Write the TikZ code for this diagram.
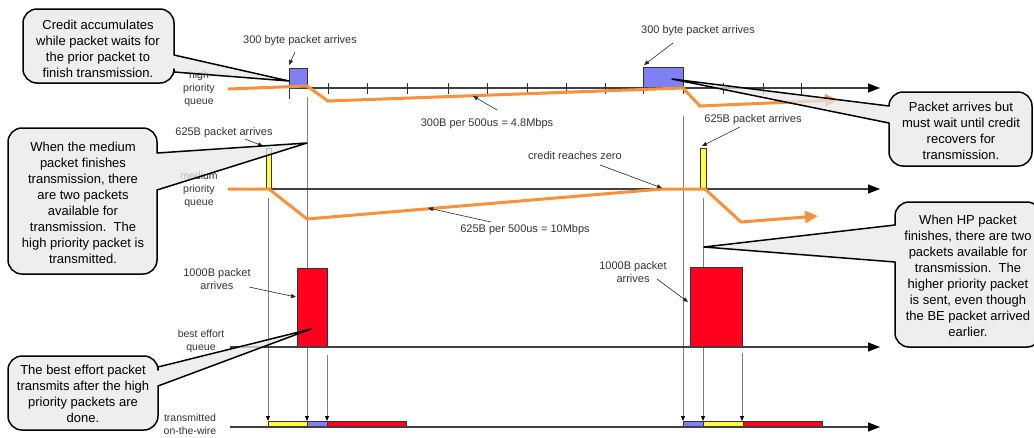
\documentclass[tikz,border=0pt]{standalone}
\usepackage{fontspec}
\setmainfont{Liberation Sans}
\usetikzlibrary{arrows.meta}
\definecolor{hpblue}{RGB}{128,128,245}
\definecolor{pktyellow}{RGB}{255,255,64}
\definecolor{pktred}{RGB}{255,0,30}
\definecolor{creditorange}{RGB}{247,145,60}
\definecolor{calloutfill}{RGB}{232,232,232}
\definecolor{labelgray}{RGB}{51,51,51}
% rounded box with a wedge on its right side: x1,y1,x2,y2,b1,b2,tipx,tipy
\newcommand{\bubbleR}[8]{%
\path[callout] ({#1+14},#2) -- ({#3-14},#2) .. controls ({#3-6.3},#2) and (#3,{#2+6.3}) .. (#3,{#2+14})
 -- (#3,#5) -- (#7,#8) -- (#3,#6)
 -- (#3,{#4-14}) .. controls (#3,{#4-6.3}) and ({#3-6.3},#4) .. ({#3-14},#4)
 -- ({#1+14},#4) .. controls ({#1+6.3},#4) and (#1,{#4-6.3}) .. (#1,{#4-14})
 -- (#1,{#2+14}) .. controls (#1,{#2+6.3}) and ({#1+6.3},#2) .. ({#1+14},#2) -- cycle;}
% rounded box with a wedge on its left side
\newcommand{\bubbleL}[8]{%
\path[callout] ({#1+14},#2) -- ({#3-14},#2) .. controls ({#3-6.3},#2) and (#3,{#2+6.3}) .. (#3,{#2+14})
 -- (#3,{#4-14}) .. controls (#3,{#4-6.3}) and ({#3-6.3},#4) .. ({#3-14},#4)
 -- ({#1+14},#4) .. controls ({#1+6.3},#4) and (#1,{#4-6.3}) .. (#1,{#4-14})
 -- (#1,#6) -- (#7,#8) -- (#1,#5)
 -- (#1,{#2+14}) .. controls (#1,{#2+6.3}) and ({#1+6.3},#2) .. ({#1+14},#2) -- cycle;}
\begin{document}
\begin{tikzpicture}[x=1pt,y=-1pt,
  axis/.style={draw=black!75, line width=1.1pt, -{Triangle[length=12pt,width=9pt,color=black]}},
  tick/.style={draw=black!80, line width=0.8pt},
  credit/.style={draw=creditorange, line width=3pt},
  creditarrow/.style={credit, -{Triangle[length=13pt,width=12pt]}},
  drop/.style={draw=black!50, line width=0.9pt, -{Triangle[length=5pt,width=4pt,color=black]}},
  pointer/.style={draw=black!85, line width=0.6pt, -{Triangle[length=5pt,width=4pt]}},
  packet/.style={draw=black!80, line width=0.7pt},
  label/.style={font=\fontsize{11}{12.5}\selectfont, text=labelgray, align=center, inner sep=0pt},
  qlabel/.style={font=\fontsize{10.5}{13}\selectfont, text=labelgray, align=center, inner sep=0pt},
  callout/.style={draw=black, line width=1.5pt, fill=calloutfill, fill opacity=0.75, line join=round},
  ctext/.style={font=\fontsize{13}{16}\selectfont, align=center, inner sep=0pt, text=black}]
\useasboundingbox (0,0) rectangle (1034,437);

% ---- coordinates on the queues
\coordinate (hpS) at (289,88);   \coordinate (hpE) at (880,88);
\coordinate (mpS) at (269,189);  \coordinate (mpE) at (880,189);
\coordinate (beS) at (230,347);  \coordinate (beE) at (880,347);
\coordinate (twS) at (230,427);  \coordinate (twE) at (880,427);

% ---- drop lines to the wire
\coordinate (d1s) at (268,198); \coordinate (d1e) at (268,421);
\coordinate (d2s) at (307,97);  \coordinate (d2e) at (307,421);
\coordinate (d3s) at (327,355); \coordinate (d3e) at (327,421);
\coordinate (d4s) at (683,116); \coordinate (d4e) at (683,421);
\coordinate (d5s) at (703,198); \coordinate (d5e) at (703,421);
\coordinate (d6s) at (742,353); \coordinate (d6e) at (742,421);
\foreach \i in {1,...,6} {\draw[drop] (d\i s) -- (d\i e);}

% ---- packets
\draw[packet, fill=hpblue] (289,68) rectangle (307,88);
\draw[packet, fill=hpblue] (643,67) rectangle (683,88);
\draw[packet, fill=pktyellow] (266,148) rectangle (271,189);
\draw[packet, fill=pktyellow] (700,148) rectangle (706,189);
\draw[packet, fill=pktred] (297,268) rectangle (327,347);
\draw[packet, fill=pktred] (690,267) rectangle (742,347);
% on the wire
\draw[packet, fill=pktyellow] (268,421) rectangle (307,427);
\draw[packet, fill=hpblue] (307,421) rectangle (327,427);
\draw[packet, fill=pktred] (327,421) rectangle (406,427);
\draw[packet, fill=hpblue] (683,421) rectangle (703,427);
\draw[packet, fill=pktyellow] (703,421) rectangle (743,427);
\draw[packet, fill=pktred] (743,421) rectangle (822,427);

% ---- axes
\draw[axis] (hpS) -- (hpE);
\draw[axis] (mpS) -- (mpE);
\draw[axis] (beS) -- (beE);
\draw[axis] (twS) -- (twE);
\draw[tick] (289,88) -- (289,99);
\foreach \x in {328,367,407,448,487,527,566,605,643,683,723,763,801} {\draw[tick] (\x,83) -- (\x,94);}

% ---- credit lines
\coordinate (c1a) at (228,89);  \coordinate (c1b) at (307,86); \coordinate (c1c) at (328,101);
\coordinate (c1d) at (683,88);  \coordinate (c1e) at (700,106); \coordinate (c1f) at (838,100);
\draw[creditarrow] (c1a) -- (c1b) -- (c1c) -- (c1d) -- (c1e) -- (c1f);
\coordinate (c2a) at (228,189); \coordinate (c2b) at (269,189); \coordinate (c2c) at (307,219);
\coordinate (c2d) at (662,189); \coordinate (c2e) at (705,189); \coordinate (c2f) at (741,222);
\coordinate (c2g) at (818,216);
\draw[creditarrow] (c2a) -- (c2b) -- (c2c) -- (c2d) -- (c2e) -- (c2f) -- (c2g);

% ---- queue labels
\node[qlabel] (qhp) at (199,89) {high\\priority\\queue};
\node[qlabel] (qmp) at (199,190) {medium\\priority\\queue};
\node[qlabel] (qbe) at (201,341) {best effort\\queue};
\node[qlabel] (qtw) at (190,424) {transmitted\\on-the-wire};

% ---- small labels with pointers
\node[label] (l1) at (300,41) {300 byte packet arrives};
\coordinate (l1s) at (295,52); \coordinate (l1e) at (289,65);
\draw[pointer] (l1s) -- (l1e);
\node[label] (l2) at (698,31) {300 byte packet arrives};
\coordinate (l2s) at (673,43); \coordinate (l2e) at (644,65);
\draw[pointer] (l2s) -- (l2e);
\node[label] (l3) at (487,124) {300B per 500us = 4.8Mbps};
\coordinate (l3s) at (497,110); \coordinate (l3e) at (473,96);
\draw[pointer] (l3s) -- (l3e);
\node[label] (l4) at (224,133) {625B packet arrives};
\coordinate (l4s) at (245,139); \coordinate (l4e) at (263,146);
\draw[pointer] (l4s) -- (l4e);
\node[label] (l5) at (753,120) {625B packet arrives};
\coordinate (l5s) at (740,127); \coordinate (l5e) at (702,146);
\draw[pointer] (l5s) -- (l5e);
\node[label] (l6) at (575,156) {credit reaches zero};
\coordinate (l6s) at (600,165); \coordinate (l6e) at (662,188);
\draw[pointer] (l6s) -- (l6e);
\node[label] (l7) at (525,230) {625B per 500us = 10Mbps};
\coordinate (l7s) at (491,222); \coordinate (l7e) at (428,208);
\draw[pointer] (l7s) -- (l7e);
\node[label] (l8) at (217,279) {1000B packet\\arrives};
\coordinate (l8s) at (249,287); \coordinate (l8e) at (296,297);
\draw[pointer] (l8s) -- (l8e);
\node[label] (l9) at (633,272) {1000B packet\\arrives};
\coordinate (l9s) at (657,279); \coordinate (l9e) at (688,302);
\draw[pointer] (l9s) -- (l9e);

% ---- callouts
\bubbleR{23}{9}{174}{83}{55}{72}{289}{81}
\node[ctext] (t1) at (98,49) {Credit accumulates\\while packet waits for\\the prior packet to\\finish transmission.};

\bubbleR{8}{128}{157}{274}{153}{190}{307}{143}
\node[ctext] (t2) at (83,203) {When the medium\\packet finishes\\transmission, there\\are two packets\\available for\\transmission.\ \ The\\high priority packet is\\transmitted.};

\bubbleL{889}{92}{1032}{166}{106}{123}{672}{79}
\node[ctext] (t3) at (961,131) {Packet arrives but\\must wait until credit\\recovers for\\transmission.};

\bubbleL{895}{202}{1041}{347}{225}{262}{704}{247}
\node[ctext] (t4) at (968,276) {When HP packet\\finishes, there are two\\packets available for\\transmission.\ \ The\\higher priority packet\\is sent, even though\\the BE packet arrived\\earlier.};

\bubbleR{8}{356}{158}{430}{367}{386}{311}{329}
\node[ctext] (t5) at (83,394) {The best effort packet\\transmits after the high\\priority packets are\\done.};
\end{tikzpicture}
\end{document}
